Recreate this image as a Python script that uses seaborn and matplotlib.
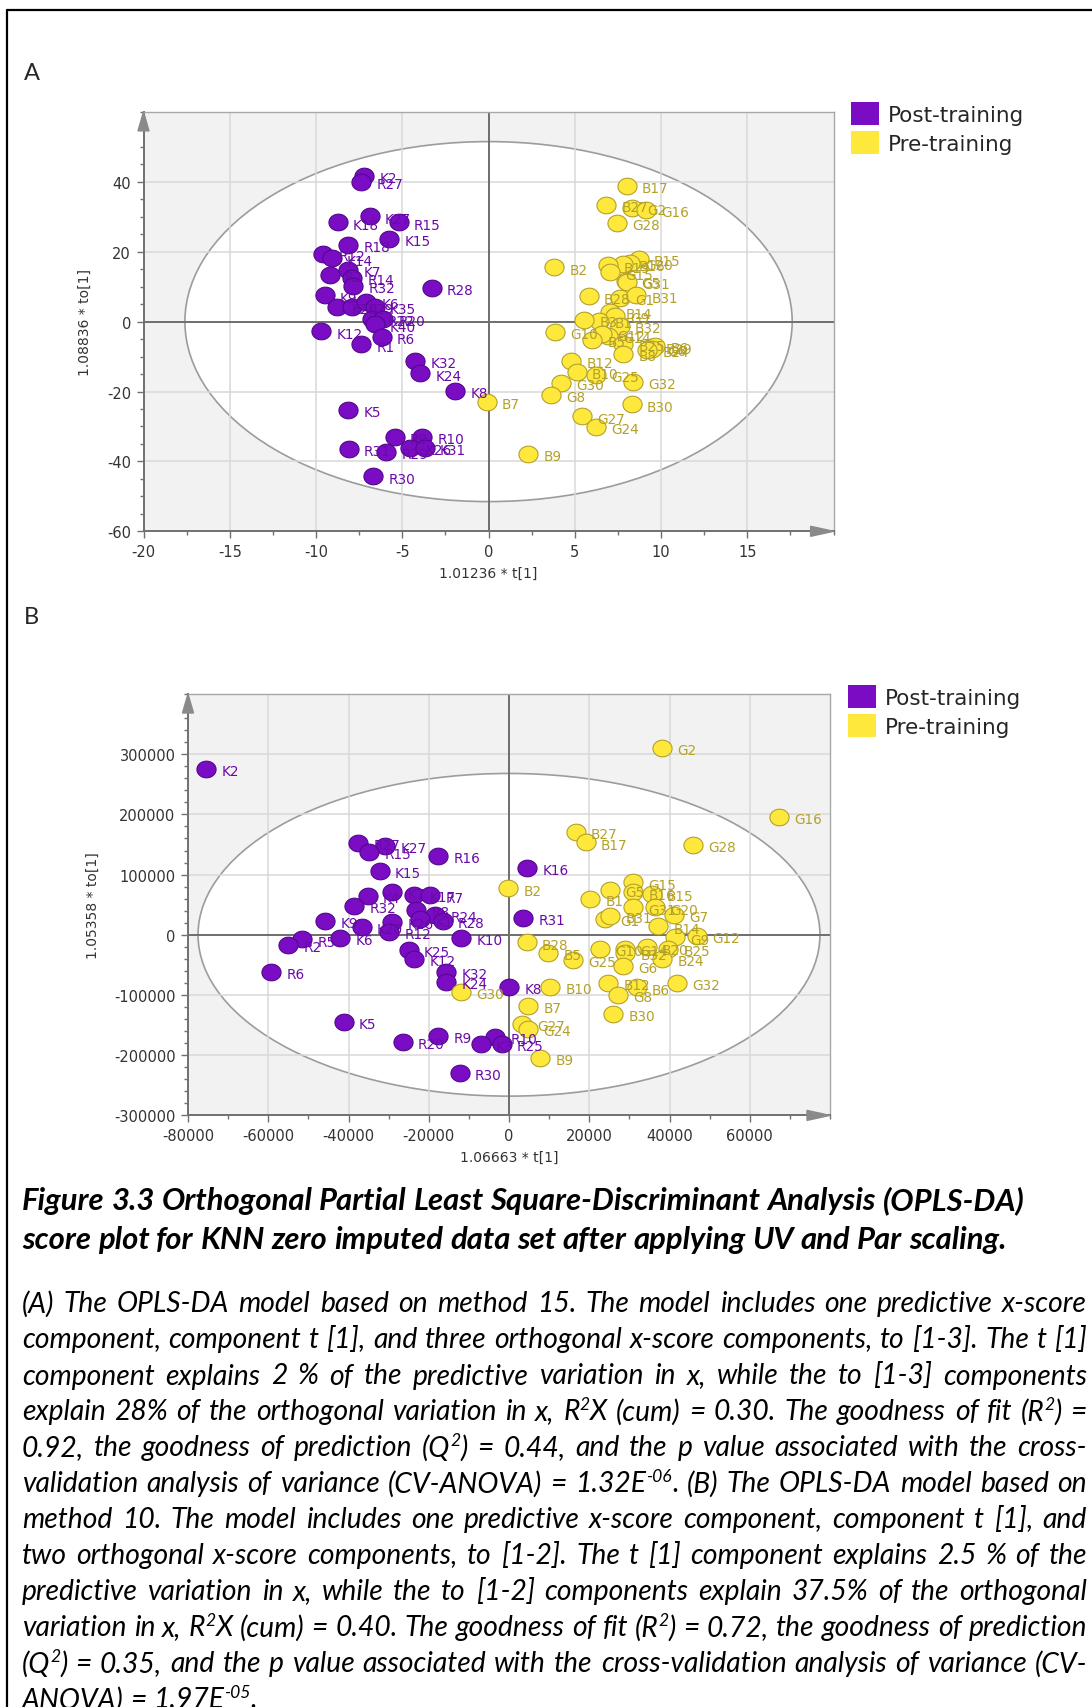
import re
import numpy as np
import pandas as pd
import matplotlib
matplotlib.use("Agg")
import matplotlib.pyplot as plt
import seaborn as sns
from matplotlib.patches import Ellipse, Polygon, Patch
from matplotlib.path import Path
from matplotlib.lines import Line2D
from matplotlib.ticker import MultipleLocator

# ------------------------------------------------------------------ data
GROUPS = ["Post-training", "Pre-training"]

# Panel A (method 15)
A_post_names = ["K2", "R27", "K27", "K18", "R15", "K15", "R18", "R12", "K14", "K7", "R2", "R14",
                "R32", "R28", "K9", "K20", "K29", "K6", "K35", "R22", "R20", "K40", "K12", "R6",
                "R1", "K32", "K24", "K8", "K5", "R9", "R10", "R31", "R29", "K26", "K31", "R30"]
A_post_t = [-7.2, -7.4, -6.9, -8.75, -5.2, -5.75, -8.15, -9.6, -9.1, -8.15, -9.2, -7.9,
            -7.85, -3.3, -9.5, -8.8, -7.9, -7.1, -6.6, -6.75, -6.1, -6.6, -9.7, -6.2,
            -7.4, -4.25, -3.95, -1.95, -8.15, -5.45, -3.85, -8.1, -5.95, -4.55, -3.7, -6.7]
A_post_to = [41.6, 40.0, 30.1, 28.4, 28.4, 23.6, 22.0, 19.3, 18.1, 14.9, 13.3, 12.6,
             10.3, 9.7, 7.5, 4.3, 4.1, 5.6, 4.1, 0.8, 0.7, -0.8, -2.8, -4.3,
             -6.5, -11.3, -14.8, -19.8, -25.3, -32.9, -32.9, -36.4, -37.3, -36.2, -36.1, -44.3]

A_pre_names = ["B17", "B27", "G2", "G16", "G28", "B2", "B15", "G20", "B16", "B19", "G15", "G5",
               "G31", "B28", "G1", "B31", "B14", "G9", "B1", "B32", "B3", "G10", "G14", "G12",
               "B5", "B25", "B29", "B6", "G6", "B24", "B8", "B12", "B10", "G25", "G30", "G32",
               "G8", "B30", "B7", "G27", "G24", "B9"]
A_pre_t = [8.0, 6.8, 8.3, 9.1, 7.45, 3.8, 8.7, 8.2, 7.8, 6.95, 7.05, 7.95,
           8.05, 5.8, 7.6, 8.55, 7.05, 7.35, 6.4, 7.6, 5.55, 3.85, 6.9, 6.6,
           6.0, 7.8, 9.4, 9.65, 9.5, 9.2, 7.8, 4.8, 5.1, 6.2, 4.2, 8.4,
           3.6, 8.3, -0.1, 5.4, 6.2, 2.3]
A_pre_to = [38.9, 33.4, 32.6, 31.9, 28.2, 15.5, 17.9, 16.8, 16.5, 16.1, 14.1, 11.6,
            11.4, 7.2, 6.8, 7.5, 2.7, 1.7, 0.3, -1.2, 0.6, -3.0, -4.0, -3.6,
            -5.2, -6.4, -7.3, -6.9, -7.8, -8.2, -9.2, -11.3, -14.4, -15.3, -17.5, -17.2,
            -21.0, -23.7, -22.9, -27.1, -30.2, -37.9]

# Panel B (method 10)
B_post_names = ["K2", "R27", "K27", "R15", "R16", "K15", "K16", "K7", "K4", "K17", "R7", "R32",
                "R8", "R24", "K1", "R28", "R31", "K9", "K20", "K26", "R12", "K10", "K6", "R5",
                "R2", "K25", "K12", "R6", "K32", "K24", "K8", "K5", "R9", "R20", "R10", "K3",
                "R25", "R30"]
B_post_t = [-75400, -37600, -30800, -34800, -17700, -32200, 4500, -29100, -35200, -23600, -19600, -38600,
            -23200, -18400, -22200, -16500, 3500, -45800, -36700, -29100, -29800, -12000, -42100, -51500,
            -55100, -25000, -23700, -59200, -15600, -15600, 0, -41200, -17700, -26500, -3500, -7100,
            -1800, -12300]
B_post_to = [276000, 153000, 148000, 138000, 130500, 106800, 111300, 71200, 64100, 66500, 65300, 48500,
             41500, 33200, 25500, 23700, 28000, 23500, 12700, 22000, 4700, -4700, -5500, -7500,
             -16800, -25500, -40400, -61300, -61300, -77600, -86000, -145000, -168500, -178500, -170000, -181300,
             -181300, -229700]

B_pre_names = ["G2", "G16", "B27", "B17", "G28", "G15", "B2", "G5", "B16", "B15", "B1", "G20",
               "G31", "G7", "G1", "B31", "B14", "G9", "G12", "B28", "B5", "G25", "G10", "G14",
               "B32", "B20", "B25", "B24", "G6", "B12", "B6", "G8", "G32", "B10", "G30", "B7",
               "B30", "G27", "G24", "B9"]
B_pre_t = [38200, 67200, 16600, 19100, 45900, 31000, -200, 25200, 31000, 35600, 20200, 36400,
           31000, 41100, 23900, 25200, 37100, 41400, 46800, 4400, 9800, 15900, 22700, 28900,
           28900, 34300, 39700, 38200, 28500, 24700, 31800, 27200, 41900, 10200, -12000, 4800,
           26000, 3200, 4700, 7700]
B_pre_to = [310000, 196500, 171500, 153500, 149500, 87000, 77000, 74800, 70400, 67600, 59300, 45500,
            45500, 32700, 26100, 31600, 14000, -4300, -1600, -12700, -30400, -41500, -23700, -23700,
            -30400, -21000, -23700, -40400, -51500, -80200, -87400, -99700, -80200, -86400, -94700, -118000,
            -131700, -148300, -156600, -204800]

A_xticks = [-20, -15, -10, -5, 0, 5, 10, 15]
A_yticks = [-60, -40, -20, 0, 20, 40]
A_xlim = (-20, 20)
A_ylim = (-60, 60)
A_ellipse = (17.6, 51.5)          # Hotelling T2 semi-axes
A_xlabel = "1.01236 * t[1]"
A_ylabel = "1.08836 * to[1]"

B_xticks = [-80000, -60000, -40000, -20000, 0, 20000, 40000, 60000]
B_yticks = [-300000, -200000, -100000, 0, 100000, 200000, 300000]
B_xlim = (-80000, 80000)
B_ylim = (-300000, 400000)
B_ellipse = (77500, 268000)
B_xlabel = "1.06663 * t[1]"
B_ylabel = "1.05358 * to[1]"

TITLE_LINES = [
    "Figure 3.3 Orthogonal Partial Least Square-Discriminant Analysis (OPLS-DA)",
    "score plot for KNN zero imputed data set after applying UV and Par scaling.",
]
PARA_LINES = [
    "(A) The OPLS-DA model based on method 15. The model includes one predictive x-score",
    "component, component t [1], and three orthogonal x-score components, to [1-3]. The t [1]",
    "component explains 2 % of the predictive variation in x, while the to [1-3] components",
    "explain 28% of the orthogonal variation in x, R^{2}X (cum) = 0.30. The goodness of fit (R^{2}) =",
    "0.92, the goodness of prediction (Q^{2}) = 0.44, and the p value associated with the cross-",
    "validation analysis of variance (CV-ANOVA) = 1.32E^{-06}. (B) The OPLS-DA model based on",
    "method 10. The model includes one predictive x-score component, component t [1], and",
    "two orthogonal x-score components, to [1-2]. The t [1] component explains 2.5 % of the",
    "predictive variation in x, while the to [1-2] components explain 37.5% of the orthogonal",
    "variation in x, R^{2}X (cum) = 0.40. The goodness of fit (R^{2}) = 0.72, the goodness of prediction",
    "(Q^{2}) = 0.35, and the p value associated with the cross-validation analysis of variance (CV-",
    "ANOVA) = 1.97E^{-05}.",
]


def make_df(pn, pt, pto, qn, qt, qto):
    return pd.DataFrame({
        "name": pn + qn,
        "t": pt + qt,
        "to": pto + qto,
        "group": [GROUPS[0]] * len(pn) + [GROUPS[1]] * len(qn),
    })


dfA = make_df(A_post_names, A_post_t, A_post_to, A_pre_names, A_pre_t, A_pre_to)
dfB = make_df(B_post_names, B_post_t, B_post_to, B_pre_names, B_pre_t, B_pre_to)

# ------------------------------------------------------------------ style
sns.set_theme(style="white")
plt.rcParams["font.family"] = ["DejaVu Sans"]
plt.rcParams["axes.unicode_minus"] = False

PURPLE, PURPLE_EDGE, PURPLE_TXT = "#7a0cc4", "#52078c", "#6a0aa8"
YELLOW, YELLOW_EDGE, YELLOW_TXT = "#ffe83c", "#b3a12a", "#b3a128"
FILL = {GROUPS[0]: PURPLE, GROUPS[1]: YELLOW}
EDGE = {GROUPS[0]: PURPLE_EDGE, GROUPS[1]: YELLOW_EDGE}
TXT = {GROUPS[0]: PURPLE_TXT, GROUPS[1]: YELLOW_TXT}

th = np.linspace(0, 2 * np.pi, 64)
OVAL = Path(np.column_stack([1.15 * np.cos(th), np.sin(th)]), closed=True)

W, H = 1092, 1708
fig = plt.figure(figsize=(W / 100, H / 100), dpi=100)
fig.patch.set_facecolor("white")


def px_axes(x0, y0, x1, y1):
    return fig.add_axes([x0 / W, 1 - y1 / H, (x1 - x0) / W, (y1 - y0) / H])


axA = px_axes(143.5, 112.9, 833.6, 532.3)
axB = px_axes(188.0, 695.0, 830.0, 1116.4)


def draw_panel(ax, df, xlim, ylim, xticks, yticks, xminor, yminor, ell,
               xlabel, ylabel, xlab_y, ylab_x):
    ax.set_facecolor("#f2f2f2")
    ax.add_patch(Ellipse((0, 0), 2 * ell[0], 2 * ell[1], facecolor="white",
                         edgecolor="#9c9c9c", lw=1.2, zorder=0.4))
    ax.set_axisbelow(True)
    ax.grid(True, which="major", color="#d9d9d9", lw=1.1)
    ax.axhline(0, color="#6e6e6e", lw=1.4, zorder=1)
    ax.axvline(0, color="#6e6e6e", lw=1.4, zorder=1)
    for grp in GROUPS:
        sub = df[df["group"] == grp]
        sns.scatterplot(data=sub, x="t", y="to", ax=ax, color=FILL[grp],
                        edgecolor=EDGE[grp], linewidth=0.8, s=190, marker=OVAL,
                        zorder=3, legend=False)
        for _, r in sub.iterrows():
            ax.annotate(r["name"], (r["t"], r["to"]), xytext=(11, -0.5),
                        textcoords="offset points", ha="left", va="center_baseline",
                        fontsize=9.8, color=TXT[grp], zorder=4)
    ax.set_xlim(*xlim)
    ax.set_ylim(*ylim)
    ax.set_xticks(xticks, labels=[str(v) for v in xticks])
    ax.set_yticks(yticks, labels=[str(v) for v in yticks])
    ax.xaxis.set_minor_locator(MultipleLocator(xminor))
    ax.yaxis.set_minor_locator(MultipleLocator(yminor))
    ax.tick_params(which="both", bottom=True, left=True, top=False, right=False,
                   direction="out", color="#707070", width=1)
    ax.tick_params(which="major", length=5, labelsize=10.5, labelcolor="#333333", pad=4)
    ax.tick_params(which="minor", length=3)
    for side in ("left", "bottom"):
        ax.spines[side].set_color("#707070")
        ax.spines[side].set_linewidth(1.4)
    for side in ("top", "right"):
        ax.spines[side].set_color("#a8a8a8")
        ax.spines[side].set_linewidth(1.0)
    ax.set_xlabel(xlabel, fontsize=10, color="#333333", va="center")
    ax.set_ylabel(ylabel, fontsize=10, color="#333333", va="center")
    ax.xaxis.set_label_coords(0.5, xlab_y)
    ax.yaxis.set_label_coords(ylab_x, 0.5)
    bw, bh = ax.bbox.width, ax.bbox.height
    ax.add_patch(Polygon([[0, 1], [-5.5 / bw, 1 - 19 / bh], [5.5 / bw, 1 - 19 / bh]],
                         closed=True, transform=ax.transAxes, color="#8a8a8a",
                         clip_on=False, zorder=5))
    ax.add_patch(Polygon([[1, 0], [1 - 23 / bw, 5 / bh], [1 - 23 / bw, -5 / bh]],
                         closed=True, transform=ax.transAxes, color="#8a8a8a",
                         clip_on=False, zorder=5))


draw_panel(axA, dfA, A_xlim, A_ylim, A_xticks, A_yticks, 2.5, 5, A_ellipse,
           A_xlabel, A_ylabel, -(574 - 532.3) / 419.4, -(143.5 - 85) / 690.1)
draw_panel(axB, dfB, B_xlim, B_ylim, B_xticks, B_yticks, 10000, 20000, B_ellipse,
           B_xlabel, B_ylabel, -(1158 - 1116.4) / 421.4, -(188 - 93) / 642)


def add_legend(x, y):
    handles = [Patch(facecolor=FILL[g], edgecolor="none", label=g) for g in GROUPS]
    fig.legend(handles=handles, loc="upper left", bbox_to_anchor=(x / W, 1 - y / H),
               frameon=False, fontsize=15.5, handlelength=1.3, handleheight=1.25,
               handletextpad=0.4, labelspacing=0.3, borderpad=0, borderaxespad=0)


add_legend(851, 103)
add_legend(848, 686)

# panel letters and page frame
fig.text(24 / W, 1 - 74 / H, "A", fontsize=17, family=["Lato", "DejaVu Sans"], va="center")
fig.text(24 / W, 1 - 617 / H, "B", fontsize=17, family=["Lato", "DejaVu Sans"], va="center")
fig.add_artist(Line2D([7 / W, 1], [1 - 11 / H, 1 - 11 / H], color="black", lw=1.6))
fig.add_artist(Line2D([7 / W, 7 / W], [1 - 11 / H, 0], color="black", lw=1.6))

# ------------------------------------------------------------------ caption
CAP_FAMILY = ["Lato", "DejaVu Sans"]
SUP = 0.62
RAISE = 0.38
renderer = fig.canvas.get_renderer()


def text_width(s, fs, style, weight):
    t = fig.text(0, 0, s, fontsize=fs, family=CAP_FAMILY, style=style, weight=weight)
    w = t.get_window_extent(renderer=renderer).width
    t.remove()
    return w


def word_segments(word):
    out = []
    for p in re.split(r"(\^\{[^}]*\})", word):
        if not p:
            continue
        if p.startswith("^{"):
            out.append((p[2:-1], True))
        else:
            out.append((p, False))
    return out


def word_width(word, fs, style, weight):
    return sum(text_width(s, fs * SUP if sup else fs, style, weight)
               for s, sup in word_segments(word))


def space_width(fs, style, weight):
    return text_width("n n", fs, style, weight) - text_width("nn", fs, style, weight)


def natural_width(line, fs, style, weight):
    words = line.split(" ")
    return sum(word_width(w, fs, style, weight) for w in words) + \
        (len(words) - 1) * space_width(fs, style, weight)


def draw_line(line, x0, x1, base, fs, style, weight, justify):
    words = line.split(" ")
    widths = [word_width(w, fs, style, weight) for w in words]
    if justify and len(words) > 1:
        gap = (x1 - x0 - sum(widths)) / (len(words) - 1)
    else:
        gap = space_width(fs, style, weight)
    x = x0
    for w in words:
        for s, sup in word_segments(w):
            f = fs * SUP if sup else fs
            yb = base - (fs * RAISE * 100 / 72 if sup else 0)
            fig.text(x / W, 1 - yb / H, s, fontsize=f, family=CAP_FAMILY, style=style,
                     weight=weight, ha="left", va="baseline", color="black")
            x += text_width(s, f, style, weight)
        x += gap


X0, X1 = 22, 1087
fs0 = 16.0
fs_title = fs0 * 1003 / natural_width(TITLE_LINES[0], fs0, "italic", "bold")
for line, base in zip(TITLE_LINES, [1210, 1249]):
    draw_line(line, X0, X1, base, fs_title, "italic", "bold", False)

nat = max(natural_width(l, fs0, "italic", "normal") for l in PARA_LINES[:-1])
fs_par = fs0 * (X1 - X0) / nat * 0.995
for i, line in enumerate(PARA_LINES):
    base = 1312.5 + 36 * i
    draw_line(line, X0, X1, base, fs_par, "italic", "normal", i < len(PARA_LINES) - 1)

fig.savefig("out.png", dpi=100)
